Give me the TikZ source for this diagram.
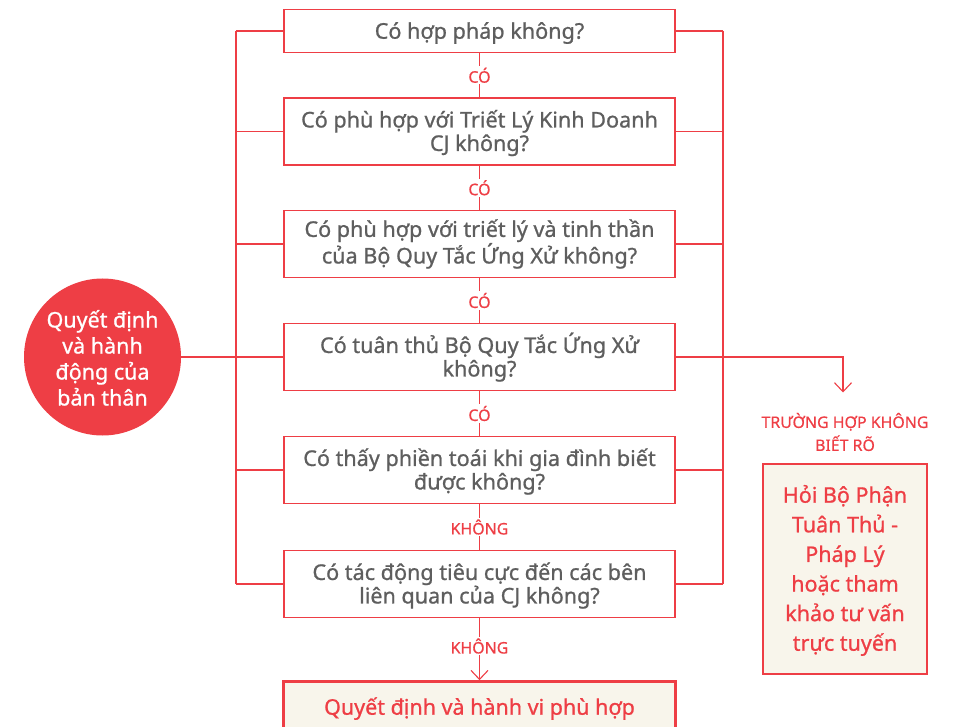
\documentclass[tikz,border=0pt]{standalone}
\usepackage{fontspec}
\setmainfont{Noto Sans}[FakeBold=0.9]
\newfontfamily\labfont{Noto Sans}[FakeBold=0.6]
\usetikzlibrary{arrows.meta}
\definecolor{cjred}{HTML}{EE3E45}
\definecolor{cjgray}{HTML}{5E5E5E}
\definecolor{cjcream}{HTML}{F8F5EB}
\tikzset{
  qbox/.style={draw=cjred, line width=1.2pt, minimum width=391pt, inner sep=0pt,
    align=center, text=cjgray, font=\bfseries\fontsize{21.6}{23.5}\selectfont, text depth=0pt},
  one/.style={text height=15.4pt},
  two/.style={text height=38.9pt},
  lab/.style={fill=white, inner sep=1.5pt, text=cjred, font=\labfont\bfseries\fontsize{15.9}{23}\selectfont},
  conn/.style={draw=cjred, line width=1.1pt},
  barb/.style={-{Straight Barb[length=9pt,width=17pt,line width=1.1pt]}},
  answer/.style={draw=cjred, line width=2.6pt, fill=cjcream, text=cjred, inner sep=0pt, align=center},
}
\begin{document}
\begin{tikzpicture}[x=1pt,y=-1pt]
\useasboundingbox (0,0) rectangle (953,727);
% question boxes
\node[qbox, one, minimum height=43pt] (b1) at (479.5,31) {Có hợp pháp không?};
\node[qbox, two, minimum height=67pt] (b2) at (479.5,131.5) {Có phù hợp với Triết Lý Kinh Doanh\\CJ không?};
\node[qbox, two, minimum height=67pt] (b3) at (479.5,244) {Có phù hợp với triết lý và tinh thần\\của Bộ Quy Tắc Ứng Xử không?};
\node[qbox, two, minimum height=67pt] (b4) at (479.5,357) {Có tuân thủ Bộ Quy Tắc Ứng Xử\\không?};
\node[qbox, two, minimum height=67pt] (b5) at (479.5,470) {Có thấy phiền toái khi gia đình biết\\được không?};
\node[qbox, two, minimum height=67pt] (b6) at (479.5,584) {Có tác động tiêu cực đến các bên\\liên quan của CJ không?};
\node[answer, minimum width=392pt, minimum height=51pt, text height=15.4pt, text depth=0pt,
  font=\bfseries\fontsize{21.5}{24}\selectfont] (fin) at (479.5,707) {Quyết định và hành vi phù hợp};
% circle
\node[circle, fill=cjred, minimum size=157pt, inner sep=0pt, text=white, align=center,
  text height=97pt, text depth=0pt,
  font=\bfseries\fontsize{21.5}{26}\selectfont] (me) at (102.5,357) {Quyết định\\và hành\\động của\\bản thân};
% side rails
\coordinate (lx) at (236,0);
\coordinate (rx) at (723,0);
\foreach \b in {b1,b2,b3,b4,b5,b6}{
  \draw[conn] (\b.west) -- (\b.west -| lx);
  \draw[conn] (\b.east) -- (\b.east -| rx);
}
\draw[conn] (b1.west -| lx) -- (b6.west -| lx);
\draw[conn] (b1.east -| rx) -- (b6.east -| rx);
\draw[conn] (me.east) -- (b4.west);
% vertical connectors
\draw[conn] (b1.south) -- node[lab]{CÓ} (b2.north);
\draw[conn] (b2.south) -- node[lab]{CÓ} (b3.north);
\draw[conn] (b3.south) -- node[lab]{CÓ} (b4.north);
\draw[conn] (b4.south) -- node[lab]{CÓ} (b5.north);
\draw[conn] (b5.south) -- node[lab]{KHÔNG} (b6.north);
\draw[conn, barb] (b6.south) -- node[lab, pos=0.45]{KHÔNG} (fin.north);
% right branch
\coordinate (tip) at (843,392.5);
\draw[conn, barb] (b4.east) -| (tip);
\node[align=center, text=cjred, font=\labfont\bfseries\fontsize{15.9}{23}\selectfont] (unk) at (845,432) {TRƯỜNG HỢP KHÔNG\\BIẾT RÕ};
\node[answer, minimum width=164pt, minimum height=210pt, text height=163.4pt, text depth=0pt,
  font=\bfseries\fontsize{21.5}{29.6}\selectfont] (ask) at (845,569) {Hỏi Bộ Phận\\Tuân Thủ -\\Pháp Lý\\hoặc tham\\khảo tư vấn\\trực tuyến};
\end{tikzpicture}
\end{document}
